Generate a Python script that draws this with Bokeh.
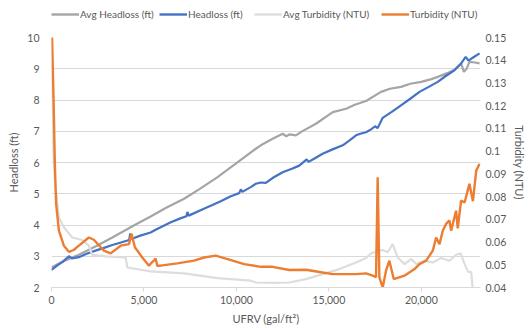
from bokeh.plotting import figure
from bokeh.layouts import column
from bokeh.models import Range1d, LinearAxis, Legend, LegendItem, NumeralTickFormatter, FixedTicker
from bokeh.embed import file_html
from bokeh.resources import INLINE

# ---- data ----
hl_x = [0, 300, 600, 940, 1100, 1480, 1900, 2380, 2800, 3290, 3800, 4200, 4260, 4330, 4800,
        5360, 5630, 6450, 7000, 7300, 7350, 7420, 8240, 8700, 9150, 9700, 10150, 10240, 10320,
        10800, 11050, 11320, 11590, 12000, 12500, 13000, 13400, 13800, 13900, 14200, 14660,
        15200, 15750, 16100, 16470, 16700, 17010, 17280, 17500, 17640, 17910, 18400, 18900,
        19400, 19900, 20400, 20890, 21300, 21790, 22150, 22400, 22550, 22800, 23150]
hl_y = [2.56, 2.70, 2.82, 3.00, 2.93, 2.97, 3.08, 3.18, 3.26, 3.36, 3.45, 3.52, 3.73, 3.55, 3.66,
        3.76, 3.85, 4.09, 4.22, 4.28, 4.42, 4.30, 4.52, 4.64, 4.76, 4.92, 5.02, 5.14, 5.06,
        5.22, 5.32, 5.36, 5.35, 5.52, 5.69, 5.80, 5.90, 6.10, 6.02, 6.12, 6.28,
        6.42, 6.55, 6.70, 6.87, 6.92, 6.97, 7.06, 7.16, 7.10, 7.43, 7.62, 7.83,
        8.04, 8.26, 8.42, 8.58, 8.76, 8.95, 9.17, 9.38, 9.26, 9.36, 9.49]

avg_hl_x = [0, 500, 1000, 1480, 2400, 3290, 4500, 5360, 6200, 7170, 8000, 8980, 10000, 11050,
            11320, 11960, 12500, 12700, 12860, 13220, 13500, 14300, 15210, 15930, 16400, 17010,
            17820, 18300, 18900, 19400, 19990, 20500, 20890, 21400, 21790, 22150, 22300, 22450,
            22600, 22900, 23150]
avg_hl_y = [2.64, 2.80, 2.93, 3.05, 3.32, 3.60, 4.00, 4.27, 4.55, 4.84, 5.15, 5.53, 5.98, 6.44,
            6.55, 6.76, 6.92, 6.84, 6.90, 6.87, 6.98, 7.24, 7.61, 7.72, 7.85, 7.97,
            8.26, 8.36, 8.42, 8.52, 8.58, 8.66, 8.74, 8.86, 8.97, 9.17, 8.90, 9.00,
            9.22, 9.20, 9.17]

turb_x = [0, 120, 180, 250, 400, 670, 940, 1200, 1480, 2020, 2290, 2830, 3200, 3740, 4190, 4330,
          4510, 4910, 5270, 5450, 5540, 5630, 5720, 5900, 6800, 7710, 8250, 8880, 9520, 10420,
          11320, 11960, 12860, 13760, 14660, 15210, 16470, 17010, 17370, 17550, 17640, 17730,
          17910, 18090, 18270, 18510, 19090, 19630, 19900, 20260, 20620, 20800, 20980, 21160,
          21340, 21520, 21610, 21880, 21970, 22150, 22340, 22600, 22790, 22970, 23150]
turb_y = [0.16, 0.12, 0.0944, 0.0768, 0.065, 0.0584, 0.0557, 0.0565, 0.0584, 0.062, 0.061, 0.0562,
          0.055, 0.0584, 0.0591, 0.0636, 0.0577, 0.0532, 0.0496, 0.0512, 0.0518, 0.0528, 0.0496,
          0.0496, 0.0506, 0.0518, 0.0532, 0.0540, 0.0525, 0.0503, 0.0491, 0.0491, 0.0477, 0.0478,
          0.0466, 0.0459, 0.0459, 0.0462, 0.0452, 0.0445, 0.0885, 0.0445, 0.040, 0.0474, 0.0518,
          0.0437, 0.0452, 0.0481, 0.0503, 0.0518, 0.0562, 0.062, 0.0591, 0.065, 0.068, 0.0695,
          0.065, 0.0738, 0.066, 0.0782, 0.0774, 0.0856, 0.078, 0.0915, 0.0944]

avg_turb_x = [0, 100, 200, 400, 670, 1120, 1660, 2020, 2200, 2930, 4010, 4100, 4910, 5360, 7170,
              8980, 10780, 11050, 11960, 12860, 13760, 14660, 15570, 16470, 17010, 17280, 17730,
              17910, 18180, 18450, 18720, 19090, 19450, 19720, 20170, 20620, 21070, 21520, 21880,
              22130, 22340, 22520, 22700, 22790]
avg_turb_y = [0.15, 0.10, 0.085, 0.0709, 0.0665, 0.062, 0.0609, 0.0584, 0.0544, 0.0537, 0.0532,
              0.0488, 0.0477, 0.0471, 0.0462, 0.0441, 0.043, 0.0422, 0.0420, 0.0422, 0.0437,
              0.0459, 0.0481, 0.051, 0.053, 0.055, 0.0562, 0.0565, 0.0555, 0.0591, 0.0532, 0.0503,
              0.0525, 0.0503, 0.0518, 0.0510, 0.053, 0.0518, 0.0544, 0.055, 0.0503, 0.047, 0.0468,
              0.038]

x_ticks = [0, 5000, 10000, 15000, 20000]
left_ticks = [2, 3, 4, 5, 6, 7, 8, 9, 10]
right_ticks = [0.04, 0.05, 0.06, 0.07, 0.08, 0.09, 0.10, 0.11, 0.12, 0.13, 0.14, 0.15]
series_names = ["Avg Headloss (ft)", "Headloss (ft)", "Avg Turbidity (NTU)", "Turbidity (NTU)"]
series_colors = ["#A5A5A5", "#4472C4", "#DDDDDD", "#ED7D31"]

FONT = "Lato"
TXT = "#595959"
GRID = "#D9D9D9"

# ---- main chart ----
p = figure(width=529, height=298, output_backend="svg", toolbar_location=None,
           x_range=Range1d(0, 23200), y_range=Range1d(2, 10),
           min_border_left=51, min_border_right=48, min_border_top=7, min_border_bottom=41)
p.extra_y_ranges = {"turb": Range1d(0.04, 0.15)}
p.outline_line_color = None
p.background_fill_color = "white"
p.border_fill_color = "white"

p.line(avg_hl_x, avg_hl_y, line_color=series_colors[0], line_width=2.2)
p.line(hl_x, hl_y, line_color=series_colors[1], line_width=2.2)
p.line(avg_turb_x, avg_turb_y, line_color=series_colors[2], line_width=2.2, y_range_name="turb")
p.line(turb_x, turb_y, line_color=series_colors[3], line_width=2.4, y_range_name="turb")

xa = p.xaxis[0]
xa.ticker = FixedTicker(ticks=x_ticks)
xa.formatter = NumeralTickFormatter(format="0,0")
xa.axis_label = "UFRV (gal/ft²)"
xa.axis_line_color = GRID
xa.major_tick_line_color = GRID
xa.major_tick_out = 4
xa.major_tick_in = 0
xa.minor_tick_line_color = None
xa.minor_tick_out = 0
xa.major_label_standoff = 4
xa.axis_label_standoff = 5

ya = p.yaxis[0]
ya.ticker = FixedTicker(ticks=left_ticks)
ya.axis_label = "Headloss (ft)"
ya.axis_line_color = None
ya.major_tick_line_color = None
ya.minor_tick_line_color = None
ya.major_tick_out = 0
ya.major_tick_in = 0
ya.minor_tick_out = 0
ya.major_label_standoff = 12
ya.axis_label_standoff = 4

ra = LinearAxis(y_range_name="turb", ticker=FixedTicker(ticks=right_ticks), axis_label="Turbidity (NTU)")
ra.axis_line_color = None
ra.major_tick_line_color = None
ra.minor_tick_line_color = None
ra.major_tick_out = 0
ra.major_tick_in = 0
ra.minor_tick_out = 0
ra.major_label_standoff = 5
ra.axis_label_standoff = 4
p.add_layout(ra, "right")

for ax in [xa, ya, ra]:
    ax.major_label_text_font = FONT
    ax.major_label_text_font_size = "10.5px"
    ax.major_label_text_color = TXT
    ax.axis_label_text_font = FONT
    ax.axis_label_text_font_size = "11px"
    ax.axis_label_text_font_style = "normal"
    ax.axis_label_text_color = TXT

p.xgrid.visible = False
p.ygrid.ticker = FixedTicker(ticks=left_ticks)
p.ygrid.grid_line_color = GRID
p.ygrid.grid_line_width = 1

# ---- legend strip (proxy lines lie outside its view) ----
lg = figure(width=529, height=30, output_backend="svg", toolbar_location=None,
            x_axis_type=None, y_axis_type=None,
            x_range=Range1d(-2, -1), y_range=Range1d(-2, -1),
            min_border_left=0, min_border_right=0, min_border_top=0, min_border_bottom=0)
lg.grid.visible = False
lg.outline_line_color = None
legend_x = [0, 108, 203, 330]   # item offsets within the strip (frame is aligned with the chart)
for n, c, xs, ys, lx in zip(series_names, series_colors,
                            [avg_hl_x, hl_x, avg_turb_x, turb_x], [avg_hl_y, hl_y, avg_turb_y, turb_y],
                            legend_x):
    r = lg.line(xs[:2], ys[:2], line_color=c, line_width=2.4)
    leg = Legend(items=[LegendItem(label=n, renderers=[r])], orientation="horizontal", location=(lx, 9))
    leg.label_text_font = FONT
    leg.label_text_font_size = "10px"
    leg.label_text_color = TXT
    leg.glyph_width = 28
    leg.glyph_height = 14
    leg.label_standoff = 1
    leg.padding = 0
    leg.margin = 0
    leg.border_line_color = None
    leg.background_fill_alpha = 0
    lg.add_layout(leg, "center")

layout = column(lg, p, spacing=0)
open("out.html", "w").write(file_html(layout, INLINE))
